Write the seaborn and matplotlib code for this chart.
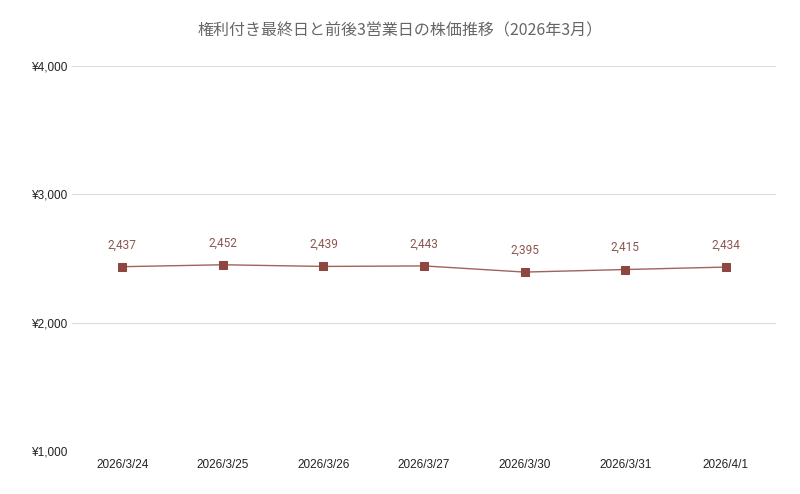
import matplotlib.pyplot as plt
import seaborn as sns
import pandas as pd

dates = ['2026/3/24', '2026/3/25', '2026/3/26', '2026/3/27', '2026/3/30', '2026/3/31', '2026/4/1']
prices = [2437, 2452, 2439, 2443, 2395, 2415, 2434]
yticks = [1000, 2000, 3000, 4000]

sns.set_style("white")
plt.rcParams['font.family'] = ['Liberation Sans', 'Noto Sans CJK JP', 'DejaVu Sans']

df = pd.DataFrame({'date': dates, 'price': prices})

fig = plt.figure(figsize=(8, 4.94), dpi=100)
ax = fig.add_axes([0.09, 0.087, 0.88, 0.779])

sns.lineplot(x='date', y='price', data=df, ax=ax, color='#a0625c', linewidth=1.0,
             marker='s', markersize=5.5, markerfacecolor='#8e4640', markeredgecolor='#8e4640',
             sort=False)

for i, v in enumerate(prices):
    ax.annotate(f'{v:,}', (i, v), xytext=(0, 11), textcoords='offset points',
                ha='center', va='bottom', fontsize=8.5, color='#8b5652',
                family=['Roboto', 'DejaVu Sans'])

ax.set_xlim(-0.5, len(dates) - 0.5)
ax.set_ylim(1000, 4000)
ax.set_yticks(yticks)
ax.set_yticklabels([f'¥{t:,}' for t in yticks])
ax.grid(axis='y', color='#dddddd', linewidth=0.8)
ax.grid(axis='x', visible=False)
for s in ax.spines.values():
    s.set_visible(False)
ax.tick_params(axis='both', length=0, labelsize=8.5, colors='#222222')
ax.tick_params(axis='x', pad=6)
ax.set_xlabel('')
ax.set_ylabel('')
fig.suptitle('権利付き最終日と前後3営業日の株価推移（2026年3月）', x=0.5, y=0.955,
             fontsize=11.5, color='#666666',
             family=['Noto Sans CJK JP', 'DejaVu Sans'])

fig.savefig('out.png', dpi=100)
plt.close(fig)
